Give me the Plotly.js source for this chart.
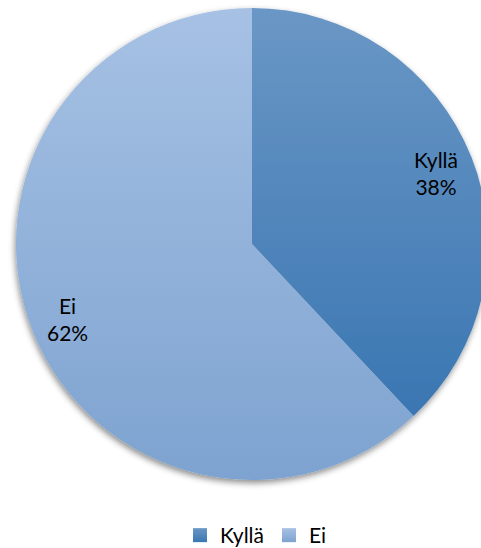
<!DOCTYPE html>
<html>
<head>
<meta charset="utf-8">
<script src="https://cdn.plot.ly/plotly-3.0.1.min.js"></script>
<style>
html,body{margin:0;padding:0;overflow:hidden;background:#fff;width:481px;height:548px;}
#chart{width:500px;height:548px;}
</style>
</head>
<body>
<div id="chart"></div>
<script>
const categories = ["Kyllä", "Ei"];
const values = [38, 62];
const colors = ["#4f87c0", "#93b4de"];

const FONT = "Lato, 'Open Sans', sans-serif";
const W = 500, H = 548;
const M = {l: 16, r: 12, t: 8, b: 0};
const plotW = W - M.l - M.r, plotH = H - M.t - M.b;
const domY = [1 - plotW / plotH, 1];

// label annotations placed along each slice's mid-angle
const total = values.reduce((a, b) => a + b, 0);
const cx = 0.5, cy = (domY[0] + domY[1]) / 2;
const rx = 0.5, ry = (domY[1] - domY[0]) / 2;
const labelFrac = 0.84;
let cum = 0;
const annotations = categories.map(function(c, i){
  const mid = (cum + values[i] / 2) / total * 2 * Math.PI;
  cum += values[i];
  return {
    xref: "paper", yref: "paper",
    x: cx + labelFrac * rx * Math.sin(mid),
    y: cy + labelFrac * ry * Math.cos(mid) - 0.004,
    text: c + "<br>" + Math.round(values[i] / total * 100) + "%",
    showarrow: false,
    xanchor: "center", yanchor: "middle",
    font: {family: FONT, size: 21, color: "#000"},
    align: "center"
  };
});

const data = [{
  type: "pie",
  labels: categories,
  values: values,
  sort: false,
  direction: "clockwise",
  rotation: 0,
  textinfo: "none",
  marker: {colors: colors, line: {width: 0}},
  domain: {x: [0, 1], y: domY},
  hoverinfo: "none"
}];

const layout = {
  width: W,
  height: H,
  margin: M,
  paper_bgcolor: "#fff",
  showlegend: true,
  annotations: annotations,
  legend: {
    orientation: "h",
    x: 0.5, xanchor: "center",
    y: 0, yanchor: "bottom",
    font: {family: FONT, size: 21, color: "#000"},
    traceorder: "normal"
  }
};

Plotly.newPlot("chart", data, layout, {staticPlot: true, displayModeBar: false}).then(function(gd){
  const NS = "http://www.w3.org/2000/svg";
  const svg = gd.querySelector(".main-svg");
  let defs = svg.querySelector("defs");
  if (!defs) { defs = document.createElementNS(NS, "defs"); svg.insertBefore(defs, svg.firstChild); }
  const grads = [["gK", "#6a97c5", "#3a76b2"], ["gE", "#a6c1e4", "#7ea3d0"]];
  grads.forEach(function(g){
    const lg = document.createElementNS(NS, "linearGradient");
    lg.setAttribute("id", g[0]);
    lg.setAttribute("x1", "0"); lg.setAttribute("y1", "0");
    lg.setAttribute("x2", "0"); lg.setAttribute("y2", "1");
    const s1 = document.createElementNS(NS, "stop");
    s1.setAttribute("offset", "0"); s1.setAttribute("stop-color", g[1]);
    const s2 = document.createElementNS(NS, "stop");
    s2.setAttribute("offset", "1"); s2.setAttribute("stop-color", g[2]);
    lg.appendChild(s1); lg.appendChild(s2);
    defs.appendChild(lg);
  });
  const f = document.createElementNS(NS, "filter");
  f.setAttribute("id", "pieShadow");
  f.setAttribute("x", "-10%"); f.setAttribute("y", "-10%");
  f.setAttribute("width", "120%"); f.setAttribute("height", "120%");
  const ds = document.createElementNS(NS, "feDropShadow");
  ds.setAttribute("dx", "-1"); ds.setAttribute("dy", "3");
  ds.setAttribute("stdDeviation", "3");
  ds.setAttribute("flood-color", "#000");
  ds.setAttribute("flood-opacity", "0.45");
  f.appendChild(ds);
  defs.appendChild(f);

  const surfaces = gd.querySelectorAll(".pielayer path.surface");
  surfaces.forEach(function(p, i){ p.style.fill = "url(#" + grads[i][0] + ")"; });
  const tr = gd.querySelector(".pielayer .trace");
  if (tr) tr.setAttribute("filter", "url(#pieShadow)");
  const leg = gd.querySelectorAll(".legend .legendpoints path");
  leg.forEach(function(p, i){
    p.style.fill = "url(#" + grads[i][0] + ")";
    p.setAttribute("d", "M7,7H-7V-7H7Z");
  });
  // nudge the legend closer to the bottom edge, as in the reference
  const legG = gd.querySelector("g.legend");
  if (legG) {
    const t = legG.getAttribute("transform") || "";
    const m = t.match(/translate\(\s*([-\d.]+)[ ,]+([-\d.]+)\s*\)/);
    if (m) legG.setAttribute("transform", "translate(" + (parseFloat(m[1]) + 4) + "," + (parseFloat(m[2]) + 8) + ")");
  }
});
</script>
</body>
</html>
